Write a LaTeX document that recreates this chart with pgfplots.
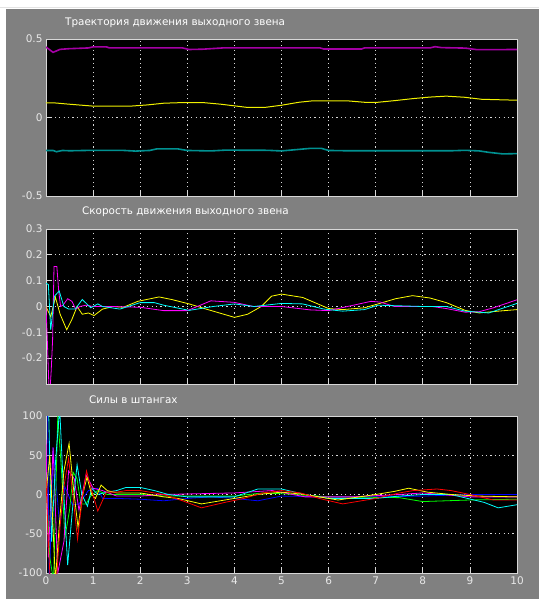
\documentclass[border=0pt]{standalone}
\usepackage{fontspec}
\setmainfont{DejaVu Sans}
\usepackage{pgfplots}
\pgfplotsset{compat=1.18}
\definecolor{bgray}{RGB}{128,128,128}
\definecolor{lgray}{RGB}{215,215,215}
\definecolor{txtc}{RGB}{232,232,232}
\definecolor{mpurp}{RGB}{165,0,165}
\definecolor{mteal}{RGB}{0,145,145}
\definecolor{myel}{RGB}{240,240,0}
\definecolor{cmag}{RGB}{255,0,255}
\definecolor{ccyan}{RGB}{0,255,255}
\definecolor{cyel}{RGB}{255,255,0}
\definecolor{cred}{RGB}{255,0,0}
\definecolor{cgreen}{RGB}{0,255,0}
\definecolor{cblue}{RGB}{0,0,255}
\pgfplotsset{
  scopeax/.style={
    scale only axis, width=471bp,
    xmin=0, xmax=10, xtick={0,...,10},
    axis background/.style={fill=black},
    axis line style={lgray, line width=0.8bp},
    grid=major,
    major grid style={lgray, line width=0.8bp, dash pattern=on 1.2bp off 3.2bp},
    tick style={lgray, line width=0.8bp},
    major tick length=4bp,
    tick align=inside,
    xtick pos=bottom, ytick pos=left,
    tick label style={text=txtc, font=\fontsize{10.5bp}{12bp}\selectfont},
    /pgf/number format/assume math mode=true,
    every axis plot/.append style={line width=0.8bp, no markers},
  }
}
\begin{document}
\begin{tikzpicture}
\path[use as bounding box] (0bp,0bp) rectangle (539bp,599bp);
\fill[white] (0bp,0bp) rectangle (539bp,599bp);
\fill[bgray] (6bp,0bp) rectangle (539bp,590bp);
\draw[lgray!70, line width=0.6bp] (0bp,591.5bp) -- (539bp,591.5bp);

% top
\begin{axis}[scopeax, at={(46bp,403bp)}, anchor=south west, height=157bp,
  ymin=-0.5, ymax=0.5, ytick={-0.5,0,0.5}, yticklabels={-0.5,0,0.5}, xticklabels={}]
\addplot[mpurp, line width=1.6bp] coordinates {(0,0.449) (0.15,0.415) (0.3,0.434) (0.48,0.438) (0.9,0.443) (1.0,0.45) (1.28,0.45) (1.35,0.443) (2.9,0.443) (3.04,0.433) (3.33,0.435) (3.75,0.443) (5.82,0.443) (5.9,0.436) (6.7,0.436) (6.76,0.443) (8.15,0.443) (8.26,0.451) (8.4,0.445) (8.9,0.442) (9.15,0.432) (10,0.433)};
\addplot[myel, line width=1bp] coordinates {(0,0.093) (0.18,0.093) (0.48,0.085) (0.77,0.078) (1.02,0.072) (1.78,0.072) (2.15,0.08) (2.5,0.091) (2.9,0.095) (3.33,0.095) (3.7,0.085) (4.06,0.072) (4.28,0.064) (4.64,0.064) (5.0,0.078) (5.37,0.097) (5.66,0.106) (6.4,0.106) (6.76,0.097) (7.05,0.097) (7.42,0.108) (7.78,0.12) (8.15,0.13) (8.5,0.136) (8.88,0.129) (9.25,0.116) (10,0.11)};
\addplot[mteal, line width=1.6bp] coordinates {(0,-0.21) (0.15,-0.21) (0.22,-0.218) (0.35,-0.21) (0.5,-0.212) (1.0,-0.209) (1.6,-0.209) (1.9,-0.214) (2.2,-0.21) (2.35,-0.2) (2.8,-0.2) (3.0,-0.21) (3.5,-0.213) (3.8,-0.208) (4.7,-0.209) (5.0,-0.213) (5.3,-0.205) (5.6,-0.197) (5.85,-0.197) (6.0,-0.21) (6.4,-0.212) (8.6,-0.212) (8.9,-0.209) (9.2,-0.213) (9.4,-0.222) (9.7,-0.232) (10,-0.23)};
\end{axis}

% middle
\begin{axis}[scopeax, at={(46bp,215bp)}, anchor=south west, height=155bp,
  ymin=-0.3, ymax=0.3, ytick={-0.2,-0.1,0,0.1,0.2,0.3}, yticklabels={-0.2,-0.1,0,0.1,0.2,0.3}, xticklabels={}]
\addplot[cyel] coordinates {(0,0.0) (0.1,-0.04) (0.2,0.036) (0.3,-0.03) (0.44,-0.09) (0.55,-0.05) (0.66,0.0) (0.77,-0.03) (0.9,-0.025) (1.02,-0.035) (1.2,-0.01) (1.43,0.0) (1.64,-0.003) (1.95,0.02) (2.4,0.037) (2.67,0.027) (3.04,0.01) (3.4,-0.01) (4.0,-0.042) (4.28,-0.03) (4.57,0.0) (4.79,0.04) (5.0,0.048) (5.45,0.035) (5.9,0.0) (6.0,-0.008) (6.3,-0.012) (6.76,-0.005) (7.05,0.01) (7.42,0.03) (7.78,0.042) (8.15,0.033) (8.5,0.015) (8.9,-0.015) (9.2,-0.025) (9.6,-0.018) (10,-0.012)};
\addplot[cmag] coordinates {(0,0) (0.03,-0.14) (0.06,-0.3) (0.09,-0.31) (0.11,-0.25) (0.14,-0.13) (0.17,0.155) (0.23,0.155) (0.27,0.06) (0.31,0.0) (0.36,0.005) (0.46,0.03) (0.55,0.02) (0.63,-0.01) (0.72,0.0) (0.85,0.005) (1.0,0.0) (1.4,0.0) (2.0,-0.003) (2.5,-0.016) (3.0,-0.016) (3.5,0.022) (4.0,0.016) (4.4,0.0) (5.0,0.0) (5.6,-0.013) (6.0,-0.016) (6.4,0.0) (6.9,0.02) (7.1,0.017) (7.4,0.0) (8.2,0.0) (8.5,-0.008) (8.9,-0.022) (9.2,-0.02) (9.5,-0.005) (10,0.026)};
\addplot[ccyan] coordinates {(0,0.09) (0.05,0.085) (0.1,-0.09) (0.18,0.04) (0.28,0.06) (0.38,0.0) (0.48,-0.01) (0.62,-0.01) (0.77,0.027) (0.95,-0.005) (1.1,0.01) (1.2,0.0) (1.57,-0.01) (2.0,0.015) (2.3,0.015) (2.5,0.005) (3.04,-0.015) (3.55,0.0) (4.0,0.01) (4.42,0.0) (5.0,0.012) (5.45,0.01) (5.9,-0.01) (6.3,-0.018) (6.76,-0.012) (7.05,0.005) (8.0,0.0) (8.5,0.0) (8.9,-0.018) (9.4,-0.025) (10,0.012)};
\end{axis}

% bottom
\begin{axis}[scopeax, at={(46bp,26bp)}, anchor=south west, height=157bp,
  ymin=-100, ymax=100, ytick={-100,-50,0,50,100}, yticklabels={-100,-50,0,50,100},
  xticklabels={0,1,2,3,4,5,6,7,8,9,10}]
\addplot[cblue] coordinates {(0,110) (0.03,130) (0.07,-120) (0.15,60) (0.29,-40) (0.4,10) (0.56,-13) (0.7,-12) (0.9,5) (1.1,8) (1.2,-5) (1.5,-5) (2.0,-6) (2.5,-8) (3.0,-5) (3.5,-3) (4.0,-5) (4.5,-8) (5.0,-2) (6.0,-3) (7.0,-3) (8.0,-2) (9.0,0) (10,0)};
\addplot[cgreen] coordinates {(0,25) (0.08,-80) (0.16,-110) (0.25,100) (0.33,30) (0.4,-55) (0.5,-20) (0.58,28) (0.66,20) (0.74,-12) (0.85,-12) (0.95,-2) (1.1,5) (1.3,0) (1.5,0) (2.0,0) (2.5,-2) (4.0,-2) (4.6,2) (5.0,1) (6.0,-3) (7.5,-4) (8.0,-9) (9.0,-7) (10,-6)};
\addplot[cmag] coordinates {(0,70) (0.05,-80) (0.15,60) (0.25,-100) (0.38,-60) (0.48,30) (0.6,20) (0.7,-20) (0.85,25) (1.0,8) (1.2,5) (1.5,-2) (2.0,-2) (2.5,0) (4.0,2) (4.8,5) (5.5,-3) (6.5,-3) (7.5,0) (8.0,2) (9.0,-3) (10,-3)};
\addplot[ccyan] coordinates {(0,120) (0.04,150) (0.12,-60) (0.2,40) (0.29,110) (0.36,20) (0.46,-90) (0.56,-20) (0.66,38) (0.76,0) (0.88,-15) (0.97,8) (1.1,0) (1.3,3) (1.5,5) (1.7,9) (2.0,9) (2.3,5) (2.6,0) (3.0,-3) (4.0,-3) (4.5,7) (5.0,7) (5.5,0) (6.0,-5) (7.0,-5) (7.5,-2) (8.0,0) (8.6,0) (9.3,-10) (9.6,-17) (10,-13)};
\addplot[cyel] coordinates {(0,0) (0.08,50) (0.2,-110) (0.28,-40) (0.38,30) (0.49,65) (0.58,10) (0.68,-42) (0.78,0) (0.87,22) (0.97,0) (1.05,-5) (1.17,12) (1.3,5) (1.5,2) (2.0,2) (2.5,-3) (2.8,-5) (3.3,-12) (4.0,-5) (4.5,0) (5.0,3) (5.5,0) (6.2,-7) (7.0,0) (7.4,4) (7.7,8) (8.1,3) (8.6,0) (9.2,-2) (10,-3)};
\addplot[cred] coordinates {(0,20) (0.05,-60) (0.12,-150) (0.22,-110) (0.3,-40) (0.38,10) (0.48,46) (0.57,0) (0.67,-57) (0.76,-10) (0.86,30) (0.97,5) (1.1,-21) (1.28,3) (1.5,3) (1.7,5) (2.0,5) (2.5,0) (2.9,-8) (3.3,-17) (3.8,-10) (4.2,-5) (4.6,2) (5.0,5) (5.4,2) (5.8,-5) (6.3,-12) (7.0,-5) (7.5,2) (7.8,5) (8.3,7) (8.6,5) (9.0,0) (9.5,-7) (10,-7)};
\end{axis}

\node[anchor=west, text=white, font=\fontsize{10.4bp}{12bp}\selectfont, inner sep=0] at (65bp,576bp) {Траектория движения выходного звена};
\node[anchor=west, text=white, font=\fontsize{10.4bp}{12bp}\selectfont, inner sep=0] at (82bp,387bp) {Скорость движения выходного звена};
\node[anchor=west, text=white, font=\fontsize{10.4bp}{12bp}\selectfont, inner sep=0] at (89bp,199bp) {Силы в штангах};
\end{tikzpicture}
\end{document}
